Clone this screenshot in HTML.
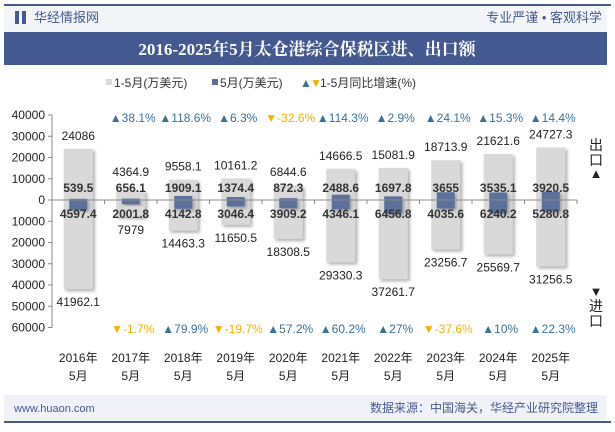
<!DOCTYPE html>
<html><head><meta charset="utf-8"><style>
body{margin:0;width:615px;height:427px;overflow:hidden;background:#fff;font-family:"Liberation Sans","Noto Sans CJK SC",sans-serif;}
svg text{font-family:"Liberation Sans","Noto Sans CJK SC",sans-serif;}
svg text.serif{font-family:"Liberation Serif","Noto Serif CJK SC",serif;}
</style></head><body>
<svg id="c" width="615" height="427" xmlns="http://www.w3.org/2000/svg">
<defs><filter id="sh" x="-20%" y="-20%" width="150%" height="150%"><feDropShadow dx="2" dy="2" stdDeviation="1.5" flood-color="#777" flood-opacity="0.6"/></filter></defs>
<rect x="4" y="4" width="607" height="2" fill="#44598f"/>
<rect x="4" y="6" width="603" height="26" fill="#f3f5f9"/>
<rect x="15" y="11" width="4" height="13" fill="#44598f"/><rect x="22" y="11" width="4" height="13" fill="#44598f"/>
<text x="34" y="22" font-size="13" fill="#44598f">华经情报网</text>
<text x="602" y="22" font-size="13" fill="#44598f" text-anchor="end">专业严谨 • 客观科学</text>
<rect x="4" y="32" width="603" height="33" fill="#44598f"/>
<text class="serif" x="307" y="55" font-size="17" font-weight="bold" fill="#fff" text-anchor="middle">2016-2025年5月太仓港综合保税区进、出口额</text>
<g font-size="12" fill="#333">
<rect x="106" y="79" width="6" height="6" fill="#d9d9d9"/><text x="114" y="87">1-5月(万美元)</text>
<rect x="212" y="79" width="6" height="6" fill="#5b6f9c"/><text x="220" y="87">5月(万美元)</text>
<text x="300" y="87" fill="#3a7196">▲</text><text x="310" y="87" fill="#f0b400">▼</text><text x="320" y="87">1-5月同比增速(%)</text>
</g>
<text x="596" y="150" font-size="14" fill="#222" text-anchor="middle">出</text>
<text x="596" y="165" font-size="14" fill="#222" text-anchor="middle">口</text>
<text x="596" y="178" font-size="13" fill="#222" text-anchor="middle">▲</text>
<text x="596" y="296" font-size="13" fill="#222" text-anchor="middle">▼</text>
<text x="596" y="311" font-size="14" fill="#222" text-anchor="middle">进</text>
<text x="596" y="326" font-size="14" fill="#222" text-anchor="middle">口</text>
<rect x="4" y="395" width="603" height="27" fill="#f0f2f7"/>
<rect x="4" y="421" width="607" height="2" fill="#44598f"/>
<text x="14" y="412" font-size="11" fill="#44598f">www.huaon.com</text>
<text x="598" y="412" font-size="12" fill="#44598f" text-anchor="end">数据来源：中国海关，华经产业研究院整理</text>
<g id="plot"></g>
</svg>
<script>
const categories=['2016年','2017年','2018年','2019年','2020年','2021年','2022年','2023年','2024年','2025年'];
const exportYtd=[24086,4364.9,9558.1,10161.2,6844.6,14666.5,15081.9,18713.9,21621.6,24727.3];
const importYtd=[41962.1,7979,14463.3,11650.5,18308.5,29330.3,37261.7,23256.7,25569.7,31256.5];
const exportMay=[539.5,656.1,1909.1,1374.4,872.3,2488.6,1697.8,3655,3535.1,3920.5];
const importMay=[4597.4,2001.8,4142.8,3046.4,3909.2,4346.1,6456.8,4035.6,6240.2,5280.8];
const exportGrowth=[null,38.1,118.6,6.3,-32.6,114.3,2.9,24.1,15.3,14.4];
const importGrowth=[null,-1.7,79.9,-19.7,57.2,60.2,27,-37.6,10,22.3];
const yTicks=[40000,30000,20000,10000,0,-10000,-20000,-30000,-40000,-50000,-60000];
const NS='http://www.w3.org/2000/svg';
const g=document.getElementById('plot');
const x0=52,x1=577,y0=200,k=85/40000;
const y=v=>y0-v*k;
const bw=(x1-x0)/categories.length;
const cx=i=>x0+bw*(i+0.5);
function el(t,a,p){const e=document.createElementNS(NS,t);for(const n in a)e.setAttribute(n,a[n]);(p||g).appendChild(e);return e;}
function tx(s,a){const e=el('text',a);e.textContent=s;return e;}
const ax=el('line',{x1:x0,y1:y(40000),x2:x0,y2:y(-60000),stroke:'#888'});


yTicks.forEach(v=>{
 el('line',{x1:x0-4,y1:y(v),x2:x0,y2:y(v),stroke:'#888'});
 const t=tx(String(Math.abs(v)),{x:x0-7,y:y(v)+4,'font-size':12,fill:'#222','text-anchor':'end'});
 
 
});
categories.forEach((c,i)=>{
 const c0=cx(i);
 const gb=el('rect',{x:c0-14.5,y:y(exportYtd[i]),width:29,height:(exportYtd[i]+importYtd[i])*k,fill:'#d9d9d9',filter:'url(#sh)'});
 
 
 const bb=el('rect',{x:c0-9,y:y(exportMay[i]),width:18,height:(exportMay[i]+importMay[i])*k,fill:'#5b6f9c',filter:'url(#sh)'});
 
 
 tx(String(exportYtd[i]),{x:c0,y:Math.min(y(exportYtd[i])-9,176),'font-size':12,fill:'#222','text-anchor':'middle'});
 tx(String(importYtd[i]),{x:c0,y:Math.max(y(-importYtd[i])+17,234),'font-size':12,fill:'#222','text-anchor':'middle'});
 tx(String(exportMay[i]),{x:c0,y:192,'font-size':12,'font-weight':'bold',fill:'#333','text-anchor':'middle'});
 tx(String(importMay[i]),{x:c0,y:218,'font-size':12,'font-weight':'bold',fill:'#333','text-anchor':'middle'});
 [[exportGrowth[i],122],[importGrowth[i],333]].forEach(([v,yy])=>{
  if(v==null)return;
  const up=v>=0,col=up?'#3a7196':'#f0b400';
  const t=tx((up?'▲':'▼')+v+'%',{x:c0+2,y:yy,'font-size':12,fill:col,'text-anchor':'middle'});
  
  
 });
 const l=tx(c,{x:c0,y:362,'font-size':12,fill:'#222','text-anchor':'middle'});
 
 
 tx('5月',{x:c0,y:380,'font-size':12,fill:'#222','text-anchor':'middle'});
 el('line',{x1:x0+bw*(i+1),y1:y0,x2:x0+bw*(i+1),y2:y0+4,stroke:'#888'});
});
const xa=el('line',{x1:x0,y1:y0,x2:x1,y2:y0,stroke:'#888'});


</script>
</body></html>
